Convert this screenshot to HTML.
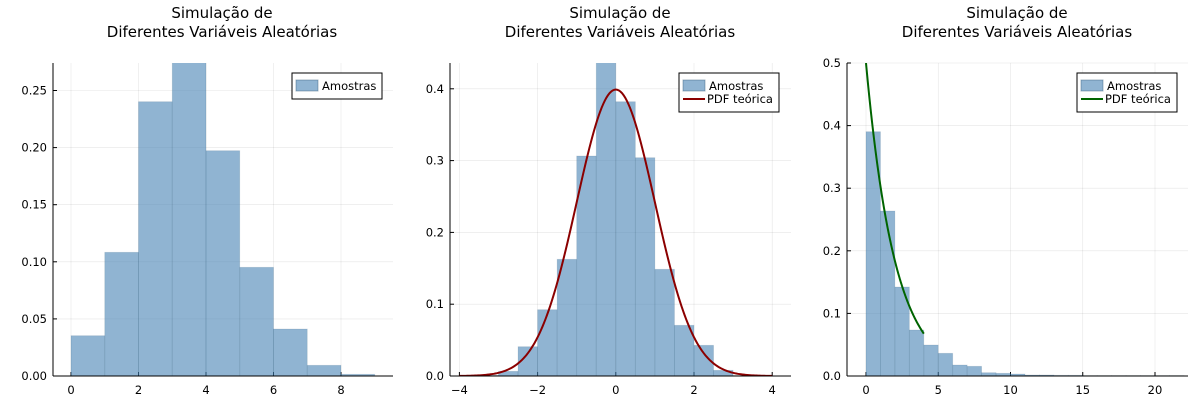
<!DOCTYPE html>
<html><head><meta charset="utf-8"><style>body{margin:0;background:#fff}svg{display:block}text{font-family:"DejaVu Sans","Liberation Sans",sans-serif}</style></head>
<body><svg id="s" width="1200" height="400" xmlns="http://www.w3.org/2000/svg"></svg>
<script>
const s=document.getElementById('s');let h='';
const BAR='#4682b4';
function panel(o){
 const {L,R,T,B,cx}=o;
 h+=`<text x="${cx}" y="18" font-size="15" text-anchor="middle" fill="#000">Simulação de</text>`;
 h+=`<text x="${cx}" y="37" font-size="15" text-anchor="middle" fill="#000">Diferentes Variáveis Aleatórias</text>`;
 o.yt.forEach(([v,l])=>{const y=B-(v*o.ys);h+=`<line x1="${L}" x2="${R}" y1="${y}" y2="${y}" stroke="#000" stroke-opacity="0.1" stroke-width="0.6"/><line x1="${L}" x2="${L+4}" y1="${y}" y2="${y}" stroke="#000"/><text x="${L-6}" y="${y+4}" font-size="11.5" text-anchor="end" fill="#000">${l}</text>`;});
 o.xt.forEach(([v,l])=>{const x=o.x0+v*o.xs;h+=`<line x1="${x}" x2="${x}" y1="${T}" y2="${B}" stroke="#000" stroke-opacity="0.1" stroke-width="0.6"/><line x1="${x}" x2="${x}" y1="${B}" y2="${B-4}" stroke="#000"/><text x="${x}" y="${B+18}" font-size="11.5" text-anchor="middle" fill="#000">${l}</text>`;});
 h+=`<clipPath id="c${cx}"><rect x="${L}" y="${T}" width="${R-L}" height="${B-T}"/></clipPath><g clip-path="url(#c${cx})">`;
 o.bars.forEach(([a,b,top])=>{const x1=o.x0+a*o.xs,x2=o.x0+b*o.xs;h+=`<rect x="${x1}" y="${top}" width="${x2-x1}" height="${B-top}" fill="${BAR}" fill-opacity="0.6" stroke="#2a4f6e" stroke-opacity="0.15" stroke-width="0.8"/>`;});
 if(o.curve){let p=[];for(let i=0;i<=200;i++){const x=o.cr[0]+(o.cr[1]-o.cr[0])*i/200;p.push((o.x0+x*o.xs).toFixed(2)+','+(B-o.curve(x)*o.ys).toFixed(2));}h+=`<polyline points="${p.join(' ')}" fill="none" stroke="${o.cc}" stroke-width="2"/>`;}
 h+='</g>';
 h+=`<line x1="${L}" x2="${L}" y1="${T}" y2="${B}" stroke="#000" stroke-width="1"/><line x1="${L}" x2="${R}" y1="${B}" y2="${B}" stroke="#000" stroke-width="1"/>`;
 const lg=o.lg;h+=`<rect x="${lg[0]}" y="${lg[1]}" width="${lg[2]}" height="${o.curve?39:26}" fill="#fff" stroke="#000" stroke-width="1"/>`;
 h+=`<rect x="${lg[0]+4}" y="${lg[1]+7}" width="22" height="11" fill="${BAR}" fill-opacity="0.6" stroke="#2a4f6e" stroke-opacity="0.4"/><text x="${lg[0]+30}" y="${lg[1]+17}" font-size="11.5" fill="#000">Amostras</text>`;
 if(o.curve)h+=`<line x1="${lg[0]+4}" x2="${lg[0]+26}" y1="${lg[1]+26}" y2="${lg[1]+26}" stroke="${o.cc}" stroke-width="2"/><text x="${lg[0]+28}" y="${lg[1]+30}" font-size="11.5" fill="#000">PDF teórica</text>`;
}
const t1=[335.7,252.3,101.7,60,150.7,267.3,329,365.3,374.3];
panel({L:53,R:393,T:63,B:376,cx:222,x0:71,xs:33.75,ys:1142,
 yt:[[0,'0.00'],[0.05,'0.05'],[0.1,'0.10'],[0.15,'0.15'],[0.2,'0.20'],[0.25,'0.25']],
 xt:[[0,'0'],[2,'2'],[4,'4'],[6,'6'],[8,'8']],
 bars:t1.map((t,i)=>[i,i+1,t]),lg:[292,73,90]});
const b2=[[-3.5,-3,375.3],[-3,-2.5,371.3],[-2.5,-2,346.7],[-2,-1.5,309.7],[-1.5,-1,259.3],[-1,-0.5,156],[-0.5,0,60],[0,0.5,101.7],[0.5,1,157.7],[1,1.5,269.3],[1.5,2,325.3],[2,2.5,345.3],[2.5,3,370.3],[3,3.5,375.5]];
panel({L:450,R:791,T:63,B:376,cx:620,x0:615.8,xs:39.1,ys:718,
 yt:[[0,'0.0'],[0.1,'0.1'],[0.2,'0.2'],[0.3,'0.3'],[0.4,'0.4']],
 xt:[[-4,'−4'],[-2,'−2'],[0,'0'],[2,'2'],[4,'4']],
 bars:b2,curve:x=>Math.exp(-x*x/2)/Math.sqrt(2*Math.PI),cr:[-4,4],cc:'#8b0000',lg:[679,73,100]});
const t3=[131.7,211,287,330,345,353.3,365,366.3,372.7,373.3,374,375,375,375.3,375.3,375.5,375.5,375.5,375.5,375.5,375.5,375.5];
panel({L:847,R:1188,T:63,B:376,cx:1017,x0:866,xs:14.45,ys:626,
 yt:[[0,'0.0'],[0.1,'0.1'],[0.2,'0.2'],[0.3,'0.3'],[0.4,'0.4'],[0.5,'0.5']],
 xt:[[0,'0'],[5,'5'],[10,'10'],[15,'15'],[20,'20']],
 bars:t3.map((t,i)=>[i,i+1,t]),curve:x=>0.5*Math.exp(-x/2),cr:[0,4],cc:'#006400',lg:[1077,73,100]});
s.innerHTML=h;
</script></body></html>
